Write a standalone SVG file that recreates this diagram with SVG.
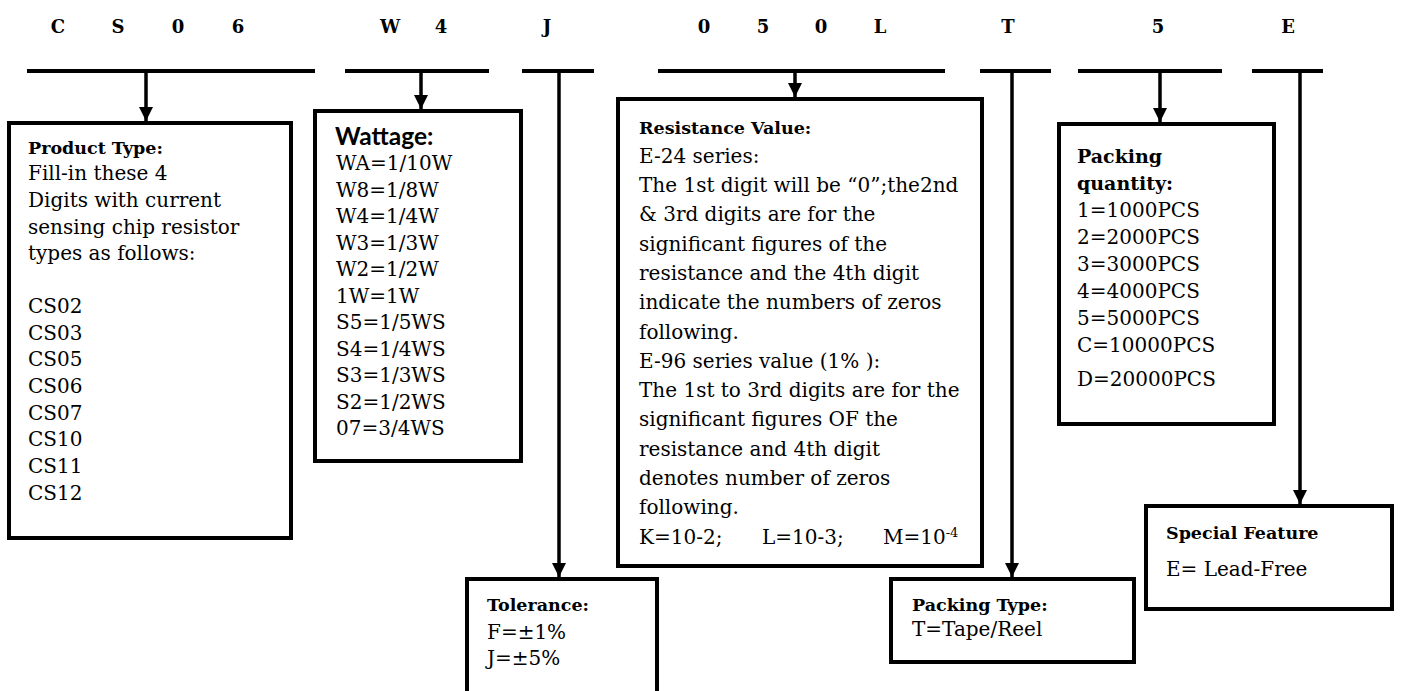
<svg xmlns="http://www.w3.org/2000/svg" width="1413" height="691" viewBox="0 0 1413 691">
<style>
.box{fill:#fff;stroke:#000;stroke-width:4}
.bar{stroke:#000;stroke-width:4;fill:none}
.ln{stroke:#000;stroke-width:3.5;fill:none;marker-end:url(#ah)}
.t{font-family:"DejaVu Serif",serif;font-size:20px;fill:#000}
.h{font-family:"DejaVu Serif",serif;font-weight:bold;font-size:17.5px;fill:#000}
.hq{font-family:"DejaVu Serif",serif;font-weight:bold;font-size:19px;fill:#000}
.hs{font-family:Lato,"DejaVu Sans",sans-serif;font-weight:bold;font-size:24.5px;fill:#000}
.code{font-family:"DejaVu Serif",serif;font-weight:bold;font-size:18px;text-anchor:middle;fill:#000}
</style>
<defs>
<marker id="ah" viewBox="0 0 14 14" refX="14" refY="7" markerWidth="14" markerHeight="14" markerUnits="userSpaceOnUse" orient="auto">
<path d="M0,0 L14,7 L0,14 z" fill="#000"/>
</marker>
</defs>
<rect width="1413" height="691" fill="#fff"/>
<g id="code">
<text class="code" x="58" y="33">C</text>
<text class="code" x="118" y="33">S</text>
<text class="code" x="178" y="33">0</text>
<text class="code" x="238" y="33">6</text>
<text class="code" x="390" y="33">W</text>
<text class="code" x="441" y="33">4</text>
<text class="code" x="547" y="33">J</text>
<text class="code" x="704" y="33">0</text>
<text class="code" x="763" y="33">5</text>
<text class="code" x="821" y="33">0</text>
<text class="code" x="880" y="33">L</text>
<text class="code" x="1008" y="33">T</text>
<text class="code" x="1158" y="33">5</text>
<text class="code" x="1288" y="33">E</text>
</g>
<g id="connectors">
<line class="bar" x1="27" y1="71" x2="315" y2="71"/>
<line class="bar" x1="345" y1="71" x2="489" y2="71"/>
<line class="bar" x1="522" y1="71" x2="594" y2="71"/>
<line class="bar" x1="658" y1="71" x2="945" y2="71"/>
<line class="bar" x1="980" y1="71" x2="1051" y2="71"/>
<line class="bar" x1="1078" y1="71" x2="1222" y2="71"/>
<line class="bar" x1="1252" y1="71" x2="1323" y2="71"/>
<line class="ln" x1="146" y1="71" x2="146" y2="121"/>
<line class="ln" x1="421" y1="71" x2="421" y2="109"/>
<line class="ln" x1="559" y1="71" x2="559" y2="577"/>
<line class="ln" x1="795" y1="71" x2="795" y2="97"/>
<line class="ln" x1="1012" y1="71" x2="1012" y2="577"/>
<line class="ln" x1="1160" y1="71" x2="1160" y2="122"/>
<line class="ln" x1="1300" y1="71" x2="1300" y2="504"/>
</g>
<g id="product-type">
<rect class="box" x="9" y="123" width="282" height="415"/>
<text class="h" x="28" y="154">Product Type:</text>
<text class="t" x="28" y="180">Fill-in these 4</text>
<text class="t" x="28" y="207">Digits with current</text>
<text class="t" x="28" y="234">sensing chip resistor</text>
<text class="t" x="28" y="260">types as follows:</text>
<text class="t" x="28" y="313">CS02</text>
<text class="t" x="28" y="340">CS03</text>
<text class="t" x="28" y="366">CS05</text>
<text class="t" x="28" y="393">CS06</text>
<text class="t" x="28" y="420">CS07</text>
<text class="t" x="28" y="446">CS10</text>
<text class="t" x="28" y="473">CS11</text>
<text class="t" x="28" y="500">CS12</text>
</g>
<g id="wattage">
<rect class="box" x="315" y="111" width="206" height="350"/>
<text class="hs" x="335" y="145">Wattage:</text>
<text class="t" x="336" y="170">WA=1/10W</text>
<text class="t" x="336" y="196.5">W8=1/8W</text>
<text class="t" x="336" y="223">W4=1/4W</text>
<text class="t" x="336" y="249.5">W3=1/3W</text>
<text class="t" x="336" y="276">W2=1/2W</text>
<text class="t" x="336" y="302.5">1W=1W</text>
<text class="t" x="336" y="329">S5=1/5WS</text>
<text class="t" x="336" y="355.5">S4=1/4WS</text>
<text class="t" x="336" y="382">S3=1/3WS</text>
<text class="t" x="336" y="408.5">S2=1/2WS</text>
<text class="t" x="336" y="435">07=3/4WS</text>
</g>
<g id="tolerance">
<rect class="box" x="467" y="579" width="190" height="130"/>
<text class="h" x="487" y="611">Tolerance:</text>
<text class="t" x="487" y="639">F=±1%</text>
<text class="t" x="487" y="665">J=±5%</text>
</g>
<g id="resistance-value">
<rect class="box" x="618" y="99" width="364" height="467"/>
<text class="h" x="639" y="134">Resistance Value:</text>
<text class="t" x="639" y="162.7">E-24 series:</text>
<text class="t" x="639" y="192">The 1st digit will be “0”;the2nd</text>
<text class="t" x="639" y="221.3">&amp; 3rd digits are for the</text>
<text class="t" x="639" y="250.6">significant figures of the</text>
<text class="t" x="639" y="279.9">resistance and the 4th digit</text>
<text class="t" x="639" y="309.2">indicate the numbers of zeros</text>
<text class="t" x="639" y="338.5">following.</text>
<text class="t" x="639" y="367.8">E-96 series value (1% ):</text>
<text class="t" x="639" y="397.1">The 1st to 3rd digits are for the</text>
<text class="t" x="639" y="426.4">significant figures OF the</text>
<text class="t" x="639" y="455.7">resistance and 4th digit</text>
<text class="t" x="639" y="485">denotes number of zeros</text>
<text class="t" x="639" y="514.3">following.</text>
<text class="t" x="639" y="543.6">K=10-2;</text>
<text class="t" x="762" y="543.6">L=10-3;</text>
<text class="t" x="883" y="543.6">M=10<tspan font-size="13" dy="-7">-4</tspan></text>
</g>
<g id="packing-type">
<rect class="box" x="891" y="579" width="243" height="83"/>
<text class="h" x="912" y="611">Packing Type:</text>
<text class="t" x="912" y="636">T=Tape/Reel</text>
</g>
<g id="packing-quantity">
<rect class="box" x="1059" y="124" width="215" height="300"/>
<text class="hq" x="1077" y="163">Packing</text>
<text class="hq" x="1077" y="190">quantity:</text>
<text class="t" x="1077" y="217">1=1000PCS</text>
<text class="t" x="1077" y="244">2=2000PCS</text>
<text class="t" x="1077" y="271">3=3000PCS</text>
<text class="t" x="1077" y="298">4=4000PCS</text>
<text class="t" x="1077" y="325">5=5000PCS</text>
<text class="t" x="1077" y="352">C=10000PCS</text>
<text class="t" x="1077" y="386">D=20000PCS</text>
</g>
<g id="special-feature">
<rect class="box" x="1146" y="506" width="246" height="103"/>
<text class="h" x="1166" y="539">Special Feature</text>
<text class="t" x="1166" y="576">E= Lead-Free</text>
</g>
</svg>
